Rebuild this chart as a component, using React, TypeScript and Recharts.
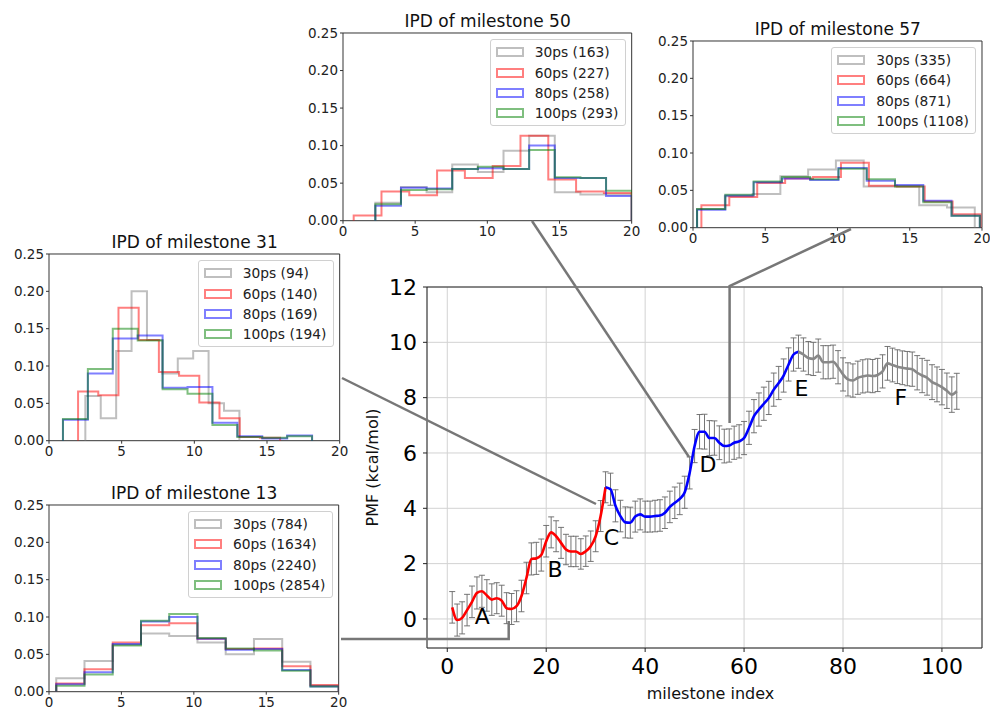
import React from "react";
import {
  ComposedChart,
  LineChart,
  Line,
  XAxis,
  YAxis,
  CartesianGrid,
  ErrorBar,
  ReferenceArea,
  ReferenceDot,
} from "recharts";

const FONT = "'DejaVu Sans', sans-serif";

// ---- main PMF profile (milestone 1..103)
const pmf = [
  0.42, -0.04, 0.04, 0.32, 0.62, 0.94, 1.0, 0.85, 0.7, 0.75,
  0.66, 0.39, 0.36, 0.46, 0.83, 1.48, 2.17, 2.19, 2.31, 2.81,
  3.13, 2.99, 2.75, 2.51, 2.44, 2.44, 2.35, 2.45, 2.63, 2.99,
  3.72, 4.76, 4.69, 4.09, 3.72, 3.49, 3.48, 3.7, 3.78, 3.7,
  3.7, 3.72, 3.74, 3.84, 4.05, 4.2, 4.34, 4.58, 5.28, 6.25,
  6.77, 6.77, 6.54, 6.54, 6.37, 6.25, 6.27, 6.37, 6.42, 6.54,
  6.91, 7.33, 7.57, 7.78, 7.99, 8.29, 8.53, 8.8, 9.2, 9.56,
  9.66, 9.56, 9.43, 9.4, 9.52, 9.28, 9.28, 9.3, 9.1, 8.84,
  8.66, 8.62, 8.72, 8.77, 8.8, 8.78, 8.82, 8.95, 9.24, 9.18,
  9.12, 9.08, 9.05, 9.03, 8.9, 8.8, 8.72, 8.56, 8.48, 8.38,
  8.25, 8.11, 8.23,
];
const pmfErr = [
  0.57, 0.58, 0.58, 0.57, 0.57, 0.58, 0.58, 0.57, 0.57, 0.56,
  0.56, 0.56, 0.56, 0.56, 0.57, 0.57, 0.58, 0.58, 0.58, 0.57,
  0.56, 0.56, 0.56, 0.55, 0.55, 0.55, 0.55, 0.55, 0.55, 0.56,
  0.56, 0.56, 0.58, 0.58, 0.57, 0.56, 0.56, 0.56, 0.56, 0.56,
  0.56, 0.57, 0.57, 0.57, 0.57, 0.57, 0.57, 0.58, 0.58, 0.6,
  0.62, 0.63, 0.63, 0.62, 0.61, 0.61, 0.6, 0.6, 0.6, 0.6,
  0.6, 0.6, 0.6, 0.6, 0.6, 0.6, 0.6, 0.6, 0.6, 0.6,
  0.6, 0.6, 0.6, 0.6, 0.6, 0.6, 0.6, 0.6, 0.6, 0.6,
  0.6, 0.6, 0.6, 0.6, 0.6, 0.6, 0.6, 0.6, 0.61, 0.61,
  0.61, 0.61, 0.62, 0.62, 0.62, 0.62, 0.63, 0.63, 0.63, 0.64,
  0.64, 0.64, 0.65,
];
const redLast = 32;
const blueLast = 71;
const mainXTicks = [0, 20, 40, 60, 80, 100];
const mainYTicks = [0, 2, 4, 6, 8, 10, 12];
const stageNames = ["A", "B", "C", "D", "E", "F"];
const stageX = [7.1, 21.8, 33.2, 52.7, 71.6, 91.7];
const stageY = [0.1, 1.81, 2.96, 5.58, 8.36, 8.03];

// ---- IPD histograms (10 bins each, range lo..hi)
const runNames = ["30ps", "60ps", "80ps", "100ps"];
const runColors = ["#808080", "#ff0000", "#0000ff", "#008000"];
const histXTicks = [0, 5, 10, 15, 20];
const histYTicks = [0, 0.05, 0.1, 0.15, 0.2, 0.25];

const m50Counts = [163, 227, 258, 293];
const m50Lo = [2.24, 0.74, 2.24, 2.24];
const m50Hi = [20, 20, 20, 20];
const m50Heights = [
  [0.024, 0.045, 0.038, 0.075, 0.065, 0.093, 0.113, 0.038, 0.035, 0.035],
  [0.007, 0.039, 0.034, 0.067, 0.057, 0.073, 0.113, 0.055, 0.039, 0.037],
  [0.02, 0.044, 0.043, 0.069, 0.07, 0.069, 0.1, 0.057, 0.057, 0.033],
  [0.022, 0.041, 0.042, 0.069, 0.072, 0.069, 0.094, 0.058, 0.057, 0.04],
];

const m57Counts = [335, 664, 871, 1108];
const m57Lo = [0.28, 0.58, 0.28, 0.28];
const m57Hi = [19.5, 19.9, 19.85, 19.85];
const m57Heights = [
  [0.025, 0.042, 0.045, 0.069, 0.078, 0.09, 0.055, 0.055, 0.03, 0.027],
  [0.03, 0.041, 0.06, 0.066, 0.068, 0.087, 0.056, 0.055, 0.035, 0.018],
  [0.024, 0.043, 0.061, 0.066, 0.064, 0.08, 0.063, 0.057, 0.036, 0.016],
  [0.025, 0.044, 0.062, 0.068, 0.065, 0.079, 0.065, 0.055, 0.034, 0.016],
];

const m31Counts = [94, 140, 169, 194];
const m31Lo = [2.5, 2.0, 0.96, 0.96];
const m31Hi = [13.1, 15.9, 18.1, 18.1];
const m31Heights = [
  [0.06, 0.03, 0.12, 0.2, 0.135, 0.09, 0.11, 0.12, 0.05, 0.04],
  [0.066, 0.061, 0.178, 0.135, 0.092, 0.087, 0.051, 0.03, 0.005, 0.004],
  [0.028, 0.09, 0.137, 0.141, 0.071, 0.072, 0.024, 0.006, 0.003, 0.007],
  [0.029, 0.096, 0.15, 0.134, 0.069, 0.063, 0.021, 0.005, 0.004, 0.006],
];

const m13Counts = [784, 1634, 2240, 2854];
const m13Lo = [0.5, 0.5, 0.5, 0.5];
const m13Hi = [20, 20, 20, 20];
const m13Heights = [
  [0.018, 0.041, 0.063, 0.078, 0.0745, 0.066, 0.05, 0.0705, 0.04, 0.008],
  [0.011, 0.03, 0.066, 0.089, 0.0915, 0.071, 0.057, 0.058, 0.034, 0.009],
  [0.01, 0.026, 0.064, 0.094, 0.1, 0.071, 0.056, 0.057, 0.029, 0.007],
  [0.008, 0.023, 0.062, 0.095, 0.104, 0.072, 0.058, 0.055, 0.028, 0.007],
];

// outline of a step histogram, as matplotlib histtype="step" draws it
function stepOutline(lo: number, hi: number, h: number[]) {
  const w = (hi - lo) / h.length;
  const pts = [{ x: lo, y: 0 }];
  h.forEach((v, k) => pts.push({ x: lo + k * w, y: v }));
  pts.push({ x: hi, y: h[h.length - 1] });
  pts.push({ x: hi, y: 0 });
  return pts;
}

function HistInset({ title, counts, lo, hi, heights, left, top, width, height }: any) {
  const padL = 50;
  const padT = 10;
  const padR = 10;
  const padB = 25;
  const tickStyle = { fontSize: 13.5, fill: "#222", fontFamily: FONT };
  return (
    <>
      <div
        style={{
          position: "absolute",
          left: left + width / 2 - 150,
          top: top - 22,
          width: 300,
          textAlign: "center",
          fontSize: 17,
          lineHeight: "20px",
          color: "#111",
        }}
      >
        {title}
      </div>
      <div style={{ position: "absolute", left: left - padL, top: top - padT }}>
        <LineChart
          width={width + padL + padR}
          height={height + padT + padB}
          margin={{ top: padT, right: padR, left: 0, bottom: 0 }}
        >
          <XAxis
            dataKey="x"
            type="number"
            domain={[0, 20]}
            ticks={histXTicks}
            allowDataOverflow
            height={padB}
            axisLine={false}
            tickSize={3}
            tickMargin={3}
            tickLine={{ stroke: "#333" }}
            tick={tickStyle}
          />
          <YAxis
            type="number"
            domain={[0, 0.25]}
            ticks={histYTicks}
            allowDataOverflow
            width={padL}
            axisLine={false}
            tickSize={3}
            tickMargin={2}
            tickLine={{ stroke: "#333" }}
            tick={tickStyle}
            tickFormatter={(v: number) => v.toFixed(2)}
          />
          <ReferenceArea x1={0} x2={20} y1={0} y2={0.25} fill="none" stroke="#333" strokeWidth={1} />
          {runNames.map((name, k) => (
            <Line
              key={name}
              data={stepOutline(lo[k], hi[k], heights[k])}
              dataKey="y"
              type="stepAfter"
              stroke={runColors[k]}
              strokeOpacity={0.5}
              strokeWidth={2}
              dot={false}
              activeDot={false}
              isAnimationActive={false}
            />
          ))}
        </LineChart>
      </div>
      <div
        style={{
          position: "absolute",
          right: 990 - (left + width - 6.5),
          top: top + 6,
          padding: "2px 6px 2px 5px",
          border: "1px solid #d0d0d0",
          borderRadius: 3,
          background: "rgba(255,255,255,0.8)",
          fontSize: 13.8,
          color: "#222",
        }}
      >
        {runNames.map((name, k) => (
          <div key={name} style={{ display: "flex", alignItems: "center", height: 20.3, whiteSpace: "nowrap" }}>
            <div
              style={{
                width: 28,
                height: 10,
                boxSizing: "border-box",
                border: `2px solid ${runColors[k]}`,
                opacity: 0.5,
                marginRight: 11,
              }}
            />
            <span>{`${name} (${counts[k]})`}</span>
          </div>
        ))}
      </div>
    </>
  );
}

const mainRows = pmf.map((v, k) => {
  const i = k + 1;
  return {
    i,
    pmf: v,
    err: pmfErr[k],
    red: i <= redLast ? v : null,
    blue: i >= redLast && i <= blueLast ? v : null,
    gray: i >= blueLast ? v : null,
  };
});

function MainChart() {
  const tick = { fontSize: 22, fill: "#000", fontFamily: FONT };
  return (
    <div style={{ position: "absolute", left: 340, top: 270 }}>
      <ComposedChart width={650} height={438} data={mainRows} margin={{ top: 17, right: 8, left: 27, bottom: 20 }}>
        <CartesianGrid stroke="#d2d2d2" strokeWidth={1} />
        <XAxis
          dataKey="i"
          type="number"
          domain={[-4.1, 108.1]}
          ticks={mainXTicks}
          allowDataOverflow
          height={40}
          axisLine={false}
          tickSize={4}
          tickMargin={6}
          tickLine={{ stroke: "#222" }}
          tick={tick}
          label={{
            content: (p: any) => {
              const vb = p.viewBox;
              return (
                <text x={vb.x + vb.width / 2 + 6} y={vb.y + 51} textAnchor="middle" fontSize={16} fontFamily={FONT} fill="#111">
                  milestone index
                </text>
              );
            },
          }}
        />
        <YAxis
          type="number"
          domain={[-1.05, 12]}
          ticks={mainYTicks}
          allowDataOverflow
          width={60}
          axisLine={false}
          tickSize={4}
          tickMargin={6}
          tickLine={{ stroke: "#222" }}
          tick={tick}
          label={{
            content: (p: any) => {
              const vb = p.viewBox;
              const x = vb.x + 5;
              const y = vb.y + vb.height / 2;
              return (
                <text
                  x={x}
                  y={y}
                  transform={`rotate(-90, ${x}, ${y})`}
                  textAnchor="middle"
                  dominantBaseline="central"
                  fontSize={16}
                  fontFamily={FONT}
                  fill="#111"
                >
                  PMF (kcal/mol)
                </text>
              );
            },
          }}
        />
        <ReferenceArea x1={-4.1} x2={108.1} y1={-1.05} y2={12} fill="none" stroke="#222" strokeWidth={1} />
        <Line dataKey="pmf" stroke="none" dot={false} activeDot={false} isAnimationActive={false}>
          <ErrorBar dataKey="err" direction="y" width={3} stroke="#666" strokeWidth={0.9} isAnimationActive={false} />
        </Line>
        <Line dataKey="red" type="monotone" stroke="#ff0000" strokeWidth={2.6} dot={false} activeDot={false} isAnimationActive={false} />
        <Line dataKey="blue" type="monotone" stroke="#0000ff" strokeWidth={2.6} dot={false} activeDot={false} isAnimationActive={false} />
        <Line dataKey="gray" type="monotone" stroke="#888888" strokeWidth={2.6} dot={false} activeDot={false} isAnimationActive={false} />
        {stageNames.map((s, k) => (
          <ReferenceDot
            key={s}
            x={stageX[k]}
            y={stageY[k]}
            r={1}
            fill="none"
            stroke="none"
            label={{ value: s, position: "center", fontSize: 22, fill: "#000", fontFamily: FONT }}
          />
        ))}
      </ComposedChart>
    </div>
  );
}

export default function App() {
  return (
    <div
      style={{
        position: "absolute",
        left: 0,
        top: 0,
        width: 990,
        height: 708,
        overflow: "hidden",
        background: "#fff",
        fontFamily: FONT,
      }}
    >
      <MainChart />
      <HistInset title="IPD of milestone 50" counts={m50Counts} lo={m50Lo} hi={m50Hi} heights={m50Heights} left={343.3} top={33.3} width={288.7} height={187.7} />
      <HistInset title="IPD of milestone 57" counts={m57Counts} lo={m57Lo} hi={m57Hi} heights={m57Heights} left={693.3} top={41} width={289} height={186.7} />
      <HistInset title="IPD of milestone 31" counts={m31Counts} lo={m31Lo} hi={m31Hi} heights={m31Heights} left={49.3} top={254.3} width={290.7} height={186.7} />
      <HistInset title="IPD of milestone 13" counts={m13Counts} lo={m13Lo} hi={m13Hi} heights={m13Heights} left={49.3} top={505} width={289.7} height={186.7} />
      <svg width={990} height={708} style={{ position: "absolute", left: 0, top: 0, pointerEvents: "none" }}>
        <g fill="none" stroke="#777" strokeWidth={2.5}>
          <polyline points="341,639 508.7,639 508.7,621" />
          <line x1={342} y1={378} x2={596} y2={504} />
          <line x1={532} y1={221} x2={689} y2={457} />
          <polyline points="851,229 729.6,286 729.6,423" />
        </g>
      </svg>
    </div>
  );
}
